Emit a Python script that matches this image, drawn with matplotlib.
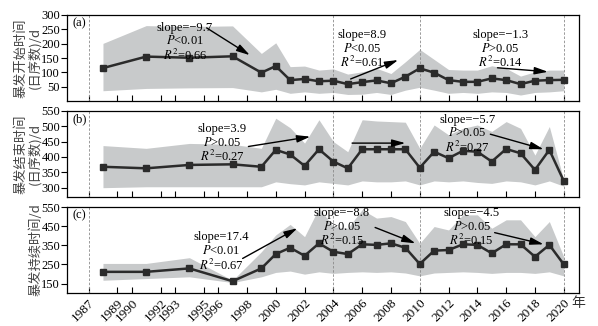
import matplotlib
matplotlib.use("Agg")
import matplotlib.pyplot as plt

plt.rcParams['font.family'] = ['Liberation Serif', 'Noto Sans CJK SC', 'DejaVu Sans']
plt.rcParams['mathtext.fontset'] = 'stix'

years = [1988, 1991, 1994, 1997, 1999, 2000, 2001, 2002, 2003, 2004, 2005, 2006, 2007,
         2008, 2009, 2010, 2011, 2012, 2013, 2014, 2015, 2016, 2017, 2018, 2019, 2020]

start_mean = [115, 155, 151, 156, 99, 122, 73, 77, 69, 71, 59, 66, 72, 62, 85, 114, 99, 73, 67, 67, 79, 73, 59, 71, 73, 74]
start_hi = [201, 263, 260, 262, 166, 203, 120, 122, 108, 112, 94, 102, 114, 96, 137, 180, 145, 110, 108, 108, 123, 114, 87, 102, 108, 108]
start_lo = [36, 44, 46, 47, 32, 41, 27, 32, 27, 30, 23, 24, 30, 23, 38, 48, 38, 27, 30, 27, 32, 30, 21, 30, 32, 36]

end_mean = [368, 363, 374, 376, 368, 423, 408, 371, 425, 385, 363, 425, 425, 425, 425, 365, 417, 396, 420, 417, 385, 426, 412, 358, 423, 322]
end_hi = [437, 428, 444, 441, 428, 526, 495, 445, 521, 450, 417, 521, 517, 515, 513, 428, 504, 472, 493, 504, 483, 515, 493, 406, 499, 325]
end_lo = [300, 303, 303, 303, 303, 319, 313, 309, 319, 314, 309, 322, 319, 319, 322, 309, 322, 319, 322, 317, 314, 322, 319, 309, 322, 305]

dur_mean = [211, 211, 229, 162, 229, 304, 337, 295, 360, 316, 304, 355, 352, 360, 337, 252, 322, 325, 355, 352, 308, 355, 355, 290, 352, 250]
dur_hi = [255, 255, 285, 167, 316, 404, 459, 395, 545, 448, 439, 536, 492, 500, 474, 360, 448, 430, 509, 509, 439, 483, 483, 395, 474, 290]
dur_lo = [167, 176, 185, 155, 185, 208, 215, 199, 211, 203, 208, 211, 208, 211, 205, 190, 205, 208, 211, 208, 203, 208, 208, 203, 211, 190]

xticks = [1987, 1989, 1990, 1992, 1993, 1995, 1996, 1998, 2000, 2002, 2004, 2006, 2008,
          2010, 2012, 2014, 2016, 2018, 2020]
breaks = [1987, 2004, 2010, 2020]

ylabels = ['暴发开始时间\n(日序数)/d', '暴发结束时间\n(日序数)/d', '暴发持续时间/d']
panel_tags = ['(a)', '(b)', '(c)']
ylims = [(0, 300), (270, 550), (100, 550)]
yticks = [[50, 100, 150, 200, 250, 300], [300, 350, 400, 450, 500, 550], [150, 250, 350, 450, 550]]

# annotations: (text, text_xy, arrow_start, arrow_end)
annots = [
    [("slope=−9.7\n$P$<0.01\n$R^2$=0.66", (1993.7, 276), (1995.2, 255), (1998.2, 160)),
     ("slope=8.9\n$P$<0.05\n$R^2$=0.61", (2006.0, 251), (2005.2, 77), (2008.5, 143)),
     ("slope=−1.3\n$P$>0.05\n$R^2$=0.14", (2015.6, 251), (2015.4, 116), (2018.9, 102))],
    [("slope=3.9\n$P$>0.05\n$R^2$=0.27", (1996.3, 510), (1998.1, 434), (2002.4, 466)),
     (None, None, (2005.3, 445), (2009.0, 445)),
     ("slope=−5.7\n$P$>0.05\n$R^2$=0.27", (2013.3, 540), (2014.9, 474), (2018.6, 425))],
    [("slope=17.4\n$P$<0.01\n$R^2$=0.67", (1996.2, 422), (1997.7, 281), (2001.5, 439)),
     ("slope=−8.8\n$P$>0.05\n$R^2$=0.15", (2004.6, 549), (2006.9, 443), (2009.7, 360)),
     ("slope=−4.5\n$P$>0.05\n$R^2$=0.15", (2013.6, 549), (2015.2, 416), (2018.6, 355))],
]

series = [(start_mean, start_lo, start_hi), (end_mean, end_lo, end_hi), (dur_mean, dur_lo, dur_hi)]

fig = plt.figure(figsize=(5.98, 3.26), dpi=100)
bottoms = [0.690, 0.396, 0.101]
label_x = [-0.051, -0.051, -0.047]
for i in range(3):
    ax = fig.add_axes([0.112, bottoms[i], 0.856, 0.264])
    m, lo, hi = series[i]
    ax.fill_between(years, lo, hi, color='#c8cacb', lw=0, zorder=1)
    for b in breaks:
        ax.axvline(b, color='#8a8a8a', lw=0.6, ls=(0, (3, 2)), zorder=2)
    ax.plot(years, m, color='#2b2b2b', lw=1.8, marker='s', ms=4.2, zorder=3)
    ax.set_xlim(1985.5, 2021.05)
    ax.set_ylim(*ylims[i])
    ax.set_yticks(yticks[i])
    ax.set_xticks(xticks)
    ax.tick_params(axis='x', direction='in', length=4, width=0.8, top=False)
    ax.tick_params(axis='y', direction='out', length=4, width=0.8, labelsize=9, pad=1)
    for s in ax.spines.values():
        s.set_linewidth(0.9)
    if i < 2:
        ax.set_xticklabels([])
    else:
        ax.set_xticklabels([str(t) for t in xticks], rotation=45, ha='right', va='top',
                           rotation_mode='anchor', fontsize=9.5)
        ax.tick_params(axis='x', pad=3)
        ax.text(0.998, -0.115, '年', transform=ax.transAxes, ha='center', va='center',
                fontsize=10, family=['Noto Sans CJK SC'], color='#333333')
    ax.set_ylabel(ylabels[i], fontsize=9.5, color='#444444',
                  family=['Noto Sans CJK SC', 'DejaVu Sans'], linespacing=1.0)
    ax.yaxis.set_label_coords(label_x[i], 0.5)
    ax.text(0.01, 0.975, panel_tags[i], transform=ax.transAxes, ha='left', va='top', fontsize=9)
    for txt, txy, a0, a1 in annots[i]:
        ax.annotate('', xy=a1, xytext=a0,
                    arrowprops=dict(arrowstyle='-|>,head_length=0.8,head_width=0.22',
                                    color='black', lw=1.0, shrinkA=0, shrinkB=0), zorder=4)
        if txt:
            ax.text(txy[0], txy[1], txt, ha='center', va='top', fontsize=9,
                    linespacing=1.05, zorder=5)

fig.savefig('out.png', dpi=100)
